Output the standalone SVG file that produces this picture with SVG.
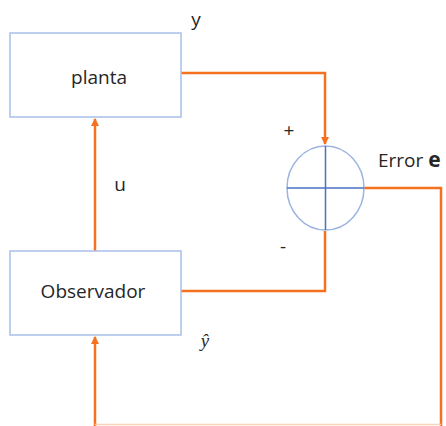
<svg xmlns="http://www.w3.org/2000/svg" width="446" height="426" viewBox="0 0 446 426">
<defs>
<style>
.box{fill:#fff;stroke:#a9bfe8;stroke-width:1.5}
.lbl{font-family:"Open Sans","Liberation Sans",sans-serif;font-size:19px;fill:#262626}
.wire{fill:none;stroke:#f5701f;stroke-width:2.5}
</style>
<marker id="ah" markerWidth="8" markerHeight="8" refX="7" refY="4" orient="auto" markerUnits="userSpaceOnUse">
<path d="M0,0 L8,4 L0,8 Z" fill="#f5701f"/>
</marker>
</defs>
<rect width="446" height="426" fill="#fff"/>
<g id="connectors">
<path class="wire" d="M181,73 H325 V144" marker-end="url(#ah)"/>
<path class="wire" d="M181,291 H325 V231"/>
<path class="wire" d="M364,188 H441 V426"/>
<path class="wire" d="M95,251 V119" marker-end="url(#ah)"/>
<path class="wire" d="M95,426 V337" marker-end="url(#ah)"/>
<path d="M95,424.5 H441" fill="none" stroke="#fbd3b8" stroke-width="1.5"/>
</g>
<g id="planta">
<rect class="box" x="10" y="33" width="171" height="84"/>
<text class="lbl" x="99" y="84" text-anchor="middle">planta</text>
</g>
<g id="observador">
<rect class="box" x="10" y="251" width="171" height="84"/>
<text class="lbl" x="93" y="298" text-anchor="middle">Observador</text>
</g>
<g id="sumador">
<ellipse cx="325.5" cy="188" rx="38.5" ry="42" fill="#fff" stroke="#9db4e2" stroke-width="1.5"/>
<path d="M287,188 H364 M325.5,146 V230" stroke="#4a72c4" stroke-width="1.5"/>
</g>
<g id="labels">
<text class="lbl" x="196" y="26" text-anchor="middle">y</text>
<text class="lbl" x="120" y="191" text-anchor="middle">u</text>
<text class="lbl" x="289" y="137" text-anchor="middle" font-size="15">+</text>
<text class="lbl" x="283" y="253" text-anchor="middle" font-size="15">-</text>
<text class="lbl" x="378" y="167">Error <tspan font-weight="bold" font-size="21">e</tspan></text>
<text x="205" y="347" text-anchor="middle" font-family="Liberation Serif,serif" font-style="italic" font-size="19" fill="#262626">ŷ</text>
</g>
</svg>
